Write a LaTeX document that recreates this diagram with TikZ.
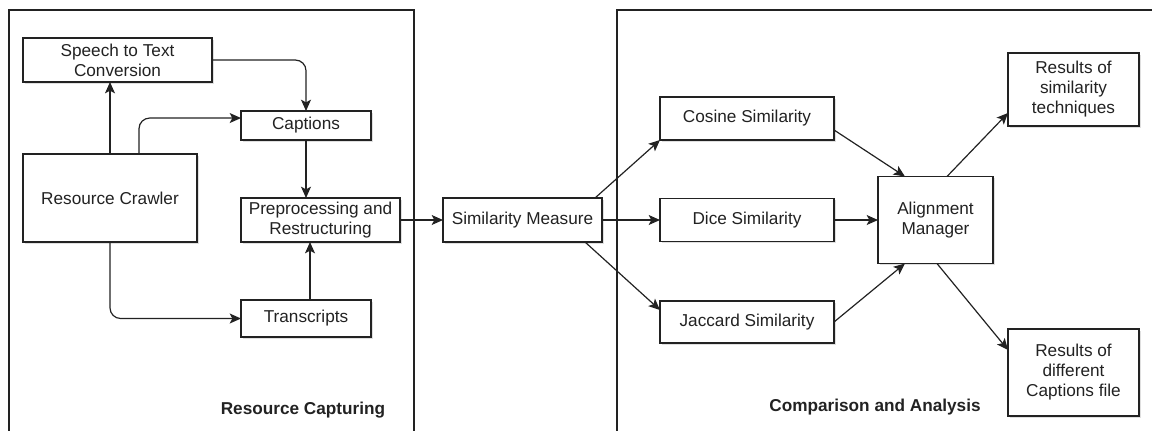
\documentclass[tikz,border=0pt]{standalone}
\usepackage{fontspec}
\setmainfont{Liberation Sans}
\usetikzlibrary{arrows.meta,shadows}
\definecolor{ink}{HTML}{222222}
\tikzset{
  box/.style={draw=ink, line width=0.9pt, fill=white, inner sep=0pt, outer sep=0pt,
    align=center, text=ink, font=\fontsize{12.9}{15}\selectfont,
    drop shadow={shadow xshift=1.3pt, shadow yshift=-1.3pt, opacity=0.25, fill=gray}},
  arr/.style={draw=ink, line width=0.9pt, -{Stealth[length=8.5pt,width=7.5pt,inset=2pt]}},
  frame/.style={draw=ink, line width=0.9pt},
  title/.style={font=\bfseries\fontsize{12.9}{15}\selectfont, text=ink}
}
\begin{document}
\begin{tikzpicture}[x=0.75pt, y=-0.75pt]
\useasboundingbox (0,0) rectangle (1152,430);
% containers
\draw[frame] (9,432) -- (9,10) -- (414,10) -- (414,432);
\draw[frame] (617,432) -- (617,10) -- (1154,10);
% nodes
\node[box, minimum width=141.75pt, minimum height=33pt] (speech) at (117.5,60) {Speech to Text\\Conversion};
\node[box, minimum width=97.5pt, minimum height=21.75pt] (captions) at (306,125.5) {Captions};
\node[box, minimum width=130.5pt, minimum height=66pt] (crawler) at (110,198) {Resource Crawler};
\node[box, minimum width=119.25pt, minimum height=33pt] (prep) at (320.5,220) {Preprocessing and\\Restructuring};
\node[box, minimum width=97.5pt, minimum height=27.75pt] (trans) at (306,318.5) {Transcripts};
\node[box, minimum width=119.25pt, minimum height=33pt] (sim) at (522.5,220) {Similarity Measure};
\node[box, minimum width=130.5pt, minimum height=32.25pt] (cos) at (747,118.5) {Cosine Similarity};
\node[box, minimum width=130.5pt, minimum height=32.25pt] (dice) at (747,220) {Dice Similarity};
\node[box, minimum width=130.5pt, minimum height=31.5pt] (jac) at (747,322) {Jaccard Similarity};
\node[box, minimum width=86.25pt, minimum height=65.25pt] (align) at (935.5,220) {Alignment\\Manager};
\node[box, minimum width=98.25pt, minimum height=54.75pt] (res1) at (1073.5,89.5) {Results of\\similarity\\techniques};
\node[box, minimum width=98.25pt, minimum height=65.25pt] (res2) at (1073.5,372.5) {Results of\\different\\Captions file};
% labels
\node[title] (lab1) at (303,410) {Resource Capturing};
\node[title] (lab2) at (875,407) {Comparison and Analysis};
% connectors
\draw[arr] (crawler.north) -- (crawler.north |- speech.south);
\draw[arr, rounded corners=8pt] ([xshift=21.75pt]crawler.north) |- ([yshift=5.6pt]captions.west);
\draw[arr, rounded corners=8pt] (speech.east) -| (captions.north);
\draw[arr] (captions.south) -- (captions.south |- prep.north);
\draw[arr, rounded corners=8pt] (crawler.south) |- (trans.west);
\draw[arr] ([xshift=3pt]trans.north) -- ([xshift=3pt]trans.north |- prep.south);
\draw[arr] (prep.east) -- (sim.west);
\draw[arr] ([xshift=-5.25pt]sim.north east) -- (cos.south west);
\draw[arr] (sim.east) -- (dice.west);
\draw[arr] ([xshift=-12.75pt]sim.south east) -- ([yshift=-6.75pt]jac.north west);
\draw[arr] ([yshift=-8.6pt]cos.east) -- ([xshift=-22.9pt]align.north);
\draw[arr] (dice.east) -- (align.west);
\draw[arr] (jac.east) -- ([xshift=-22.9pt]align.south);
\draw[arr] ([xshift=8.6pt]align.north) -- ([yshift=-17.6pt]res1.west);
\draw[arr] ([xshift=1.1pt]align.south) -- ([yshift=16.9pt]res2.west);
\end{tikzpicture}
\end{document}
